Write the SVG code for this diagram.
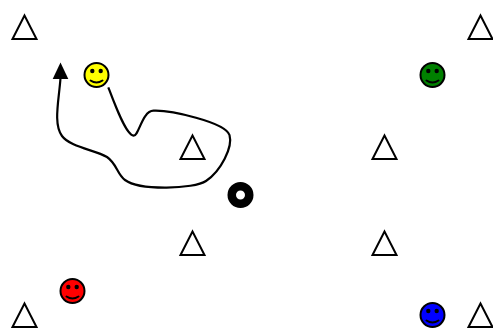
<svg xmlns="http://www.w3.org/2000/svg" width="493" height="329" viewBox="0 0 493 329">
<defs>
<style>
.tri{fill:#fff;stroke:#000;stroke-width:2;stroke-linejoin:miter}
.face{stroke:#000;stroke-width:2}
.eye{fill:#000;stroke:none}
.smile{fill:none;stroke:#000;stroke-width:2;stroke-linecap:round}
.conn{fill:none;stroke:#000;stroke-width:2.200}
</style>
<polygon id="t" class="tri" points="0,-11.5 12,12 -12,12"/>
<g id="s"><path class="smile" d="M-6 5.500Q0 9.500 6 5.500"/><circle class="eye" cx="-4.200" cy="-4" r="2.200"/><circle class="eye" cx="4.200" cy="-4" r="2.200"/></g>
</defs>
<g id="connectors">
<path class="conn" d="M108.300 87.300C115 105 126 135 133.500 135.700C139 136 142 111 153.500 110.700C170 110 225 122 229.500 135C233 147 221 171 206 181C194 189 140 191 125 180C117 174 117 164 107 157C95 150 70 147 62 136C53 124 59 100 60.500 78"/>
<path d="M60.500 62.500L68.300 79L52.700 79Z" fill="#000"/>
</g>
<g id="tri-1"><use href="#t" x="24.500" y="27"/></g>
<g id="tri-2"><use href="#t" x="480.500" y="27"/></g>
<g id="tri-3"><use href="#t" x="192.500" y="147"/></g>
<g id="tri-4"><use href="#t" x="384.500" y="147"/></g>
<g id="tri-5"><use href="#t" x="192.500" y="243"/></g>
<g id="tri-6"><use href="#t" x="384.500" y="243"/></g>
<g id="tri-7"><use href="#t" x="24.500" y="315"/></g>
<g id="tri-8"><use href="#t" x="480.500" y="315"/></g>
<g id="face-yellow"><circle class="face" cx="96.500" cy="75" r="12" fill="#ff0"/><use href="#s" x="96.500" y="75"/></g>
<g id="face-green"><circle class="face" cx="432.500" cy="75" r="12" fill="#008000"/><use href="#s" x="432.500" y="75"/></g>
<g id="face-red"><circle class="face" cx="72.500" cy="291" r="12" fill="#f00"/><use href="#s" x="72.500" y="291"/></g>
<g id="face-blue"><circle class="face" cx="432.500" cy="315" r="12" fill="#00f"/><use href="#s" x="432.500" y="315"/></g>
<g id="ring"><circle cx="240.500" cy="195" r="8.750" fill="#fff" stroke="#000" stroke-width="8.500"/></g>
</svg>
